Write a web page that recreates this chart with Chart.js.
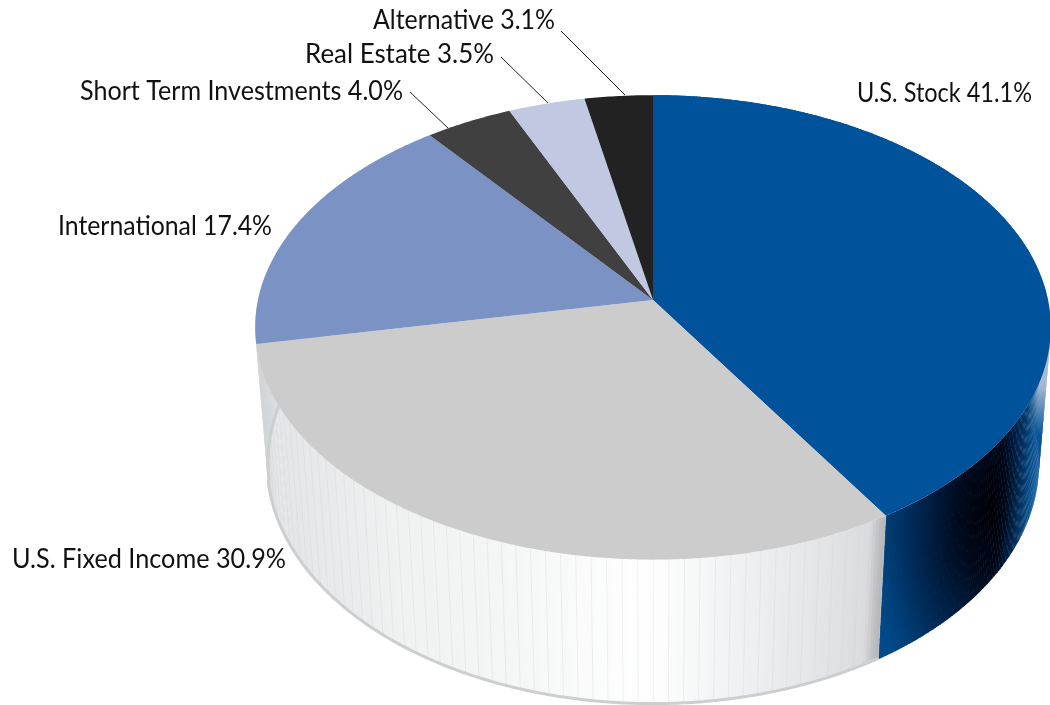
<!DOCTYPE html>
<html>
<head>
<meta charset="utf-8">
<title>Asset allocation</title>
<script src="https://cdn.jsdelivr.net/npm/chart.js@4/dist/chart.umd.js"></script>
<style>
  html, body { margin: 0; padding: 0; background: #fff; }
  canvas { display: block; }
</style>
</head>
<body>
<canvas id="allocationChart" width="1050" height="705"></canvas>
<script>
const categories = ['U.S. Stock', 'U.S. Fixed Income', 'International', 'Short Term Investments', 'Real Estate', 'Alternative'];
const percents = [41.1, 30.9, 17.4, 4.0, 3.5, 3.1];
const sliceColors = ['#00529b', '#cccccc', '#7a92c4', '#404040', '#c0c8e2', '#222222'];

// label placement: x, baseline y, text align, squeezed width, optional leader line
const labelPlaces = [
  { x: 857, y: 102, align: 'left', width: 175 },
  { x: 12, y: 568, align: 'left', width: 274 },
  { x: 58, y: 235, align: 'left', width: 214 },
  { x: 403, y: 100, align: 'right', width: 323, leader: [410, 92, 448, 128] },
  { x: 494, y: 63, align: 'right', width: 189, leader: [501, 57, 548, 103] },
  { x: 555, y: 29, align: 'right', width: 182, leader: [561, 31, 625, 95] }
];

// perspective view of the disc
const view = { cx: 653, cy: 300, rx: 395, ry: 229, tilt: 0.118, depth: 140, far: 0.03 };

function project(angle, low) {
  const u = Math.cos(angle), v = Math.sin(angle);
  const w = 1 - view.tilt * v + (low ? view.far : 0);
  return {
    x: view.cx + view.rx * u / w,
    y: view.cy + (view.ry * v + (low ? view.depth : 0)) / w
  };
}

function mixStops(stops, t) {
  if (t <= stops[0][0]) return stops[0].slice(1);
  for (let i = 1; i < stops.length; i++) {
    if (t <= stops[i][0]) {
      const a = stops[i - 1], b = stops[i], f = (t - a[0]) / (b[0] - a[0]);
      return [a[1] + (b[1] - a[1]) * f, a[2] + (b[2] - a[2]) * f, a[3] + (b[3] - a[3]) * f];
    }
  }
  return stops[stops.length - 1].slice(1);
}

const greyWall = [[258, 206, 208, 210], [275, 226, 228, 230], [400, 240, 241, 241], [520, 245, 246, 246],
  [650, 255, 255, 255], [720, 243, 244, 245], [820, 228, 229, 231], [868, 218, 219, 222], [878, 190, 190, 192], [893, 168, 168, 170]];
const blueWall = [[0, 0, 0, 6], [0.25, 0, 10, 28], [0.55, 0, 40, 84], [0.8, 0, 70, 130], [1, 0, 82, 150]];

function wallColor(i, x, y) {
  if (i === 0) {
    const dx = x - 995, dy = y - 510;
    const d = Math.min(1, Math.hypot(dx / (dx < 0 ? 150 : 45), dy / 260));
    let c = mixStops(blueWall, d);
    const light = Math.max(0, Math.min(1, (435 - y) / 50)) * Math.max(0, Math.min(1, (x - 1022) / 12));
    c = c.map((n, k) => n + ([165, 185, 210][k] - n) * light);
    return 'rgb(' + c.map(Math.round).join(',') + ')';
  }
  // the rest of the wall only shows as the pale edge on the left
  return 'rgb(' + mixStops(greyWall, x).map(Math.round).join(',') + ')';
}

// draws the walls then the top face, from the arcs chart.js laid out
const discPlugin = {
  id: 'disc',
  beforeDatasetsDraw(chart) {
    const ctx = chart.ctx;
    const arcs = chart.getDatasetMeta(0).data;
    const step = Math.PI / 360;

    arcs.forEach((arc, i) => {
      const bands = i === 0 ? 14 : 1;
      for (let a = arc.startAngle; a < arc.endAngle; a += step) {
        const b = Math.min(a + step * 1.3, arc.endAngle);
        const t0 = project(a, false), t1 = project(b, false);
        const l0 = project(a, true), l1 = project(b, true);
        for (let n = 0; n < bands; n++) {
          const f0 = n / bands, f1 = (n + 1.2) / bands;
          ctx.fillStyle = wallColor(i, (t0.x + l0.x) / 2, t0.y + (l0.y - t0.y) * (f0 + f1) / 2);
          ctx.beginPath();
          ctx.moveTo(t0.x + (l0.x - t0.x) * f0, t0.y + (l0.y - t0.y) * f0);
          ctx.lineTo(t1.x + (l1.x - t1.x) * f0, t1.y + (l1.y - t1.y) * f0);
          ctx.lineTo(t1.x + (l1.x - t1.x) * Math.min(1, f1), t1.y + (l1.y - t1.y) * Math.min(1, f1));
          ctx.lineTo(t0.x + (l0.x - t0.x) * Math.min(1, f1), t0.y + (l0.y - t0.y) * Math.min(1, f1));
          ctx.closePath();
          ctx.fill();
        }
      }
    });

    // faint seams and rim on the pale wall
    const pale = arcs[1];
    ctx.strokeStyle = 'rgba(205,207,208,0.3)';
    ctx.lineWidth = 1;
    for (let a = pale.startAngle; a < pale.endAngle; a += step * 4) {
      const t = project(a, false), l = project(a, true);
      ctx.beginPath();
      ctx.moveTo(t.x, t.y);
      ctx.lineTo(l.x, l.y);
      ctx.stroke();
    }
    ctx.strokeStyle = '#cdcecf';
    ctx.lineWidth = 3;
    ctx.beginPath();
    for (let a = pale.startAngle; a <= Math.PI * 1.05; a += step) {
      const p = project(a, true);
      ctx.lineTo(p.x + (a > pale.endAngle ? 1 : 0), p.y - 1);
    }
    ctx.stroke();

    arcs.forEach((arc, i) => {
      ctx.fillStyle = sliceColors[i];
      ctx.beginPath();
      ctx.moveTo(view.cx, view.cy);
      for (let a = arc.startAngle; a < arc.endAngle; a += step) {
        const p = project(a, false);
        ctx.lineTo(p.x, p.y);
      }
      const e = project(arc.endAngle, false);
      ctx.lineTo(e.x, e.y);
      ctx.closePath();
      ctx.fill();
    });
    return false;
  },
  afterDraw(chart) {
    const ctx = chart.ctx;
    ctx.save();
    ctx.fillStyle = '#111';
    ctx.font = '26px Lato';
    ctx.textBaseline = 'alphabetic';
    chart.data.labels.forEach((cat, i) => {
      const place = labelPlaces[i];
      ctx.textAlign = place.align;
      ctx.fillText(cat + ' ' + percents[i].toFixed(1) + '%', place.x, place.y, place.width);
      if (place.leader) {
        const q = place.leader;
        ctx.strokeStyle = '#222';
        ctx.lineWidth = 1;
        ctx.beginPath();
        ctx.moveTo(q[0], q[1]);
        ctx.lineTo(q[2], q[3]);
        ctx.stroke();
      }
    });
    ctx.restore();
  }
};

new Chart(document.getElementById('allocationChart').getContext('2d'), {
  type: 'pie',
  data: {
    labels: categories,
    datasets: [{ data: percents, backgroundColor: sliceColors, borderWidth: 0 }]
  },
  options: {
    responsive: false,
    animation: false,
    plugins: { legend: { display: false }, tooltip: { enabled: false } }
  },
  plugins: [discPlugin]
});
</script>
</body>
</html>
